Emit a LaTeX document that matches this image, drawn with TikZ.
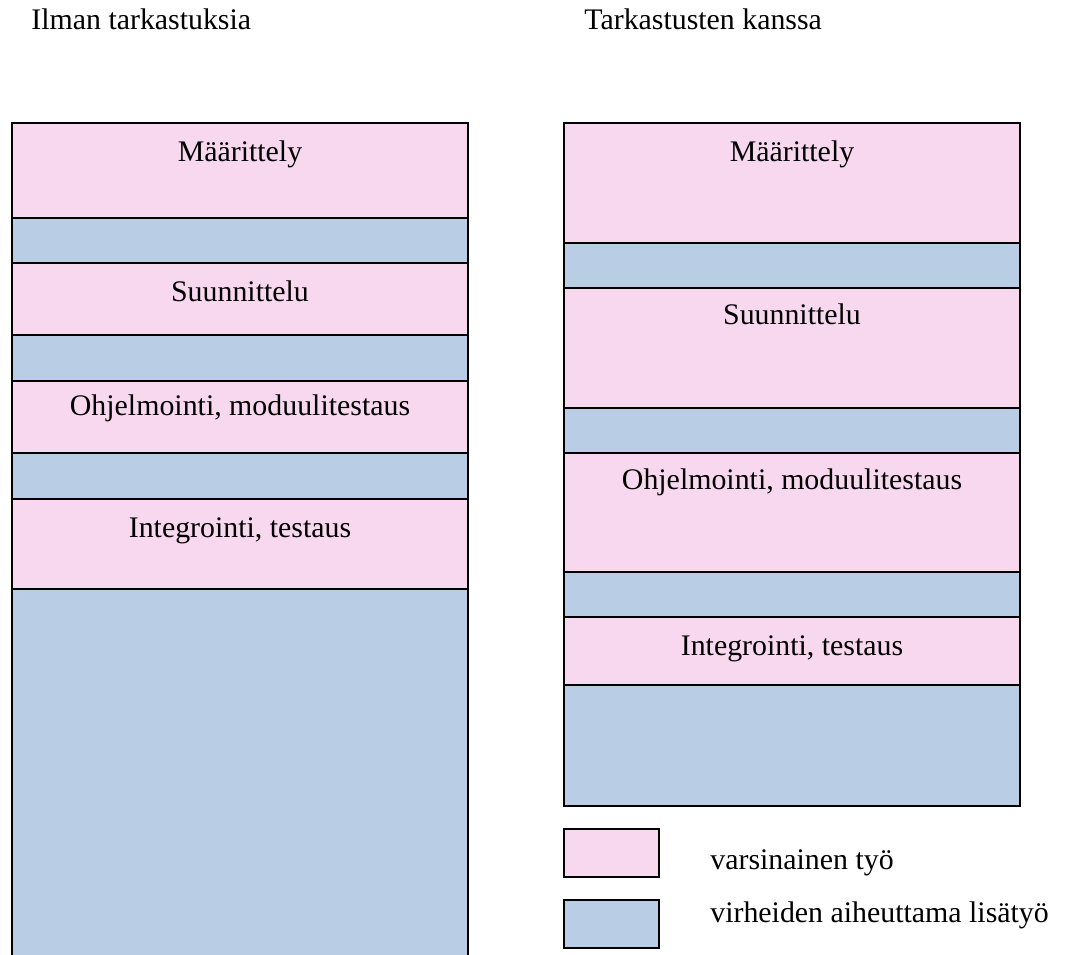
\documentclass[tikz,border=0pt]{standalone}
\usepackage{fontspec}
\setmainfont{Liberation Serif}
\usetikzlibrary{positioning}
\definecolor{tyopink}{RGB}{248,216,239}
\definecolor{virheblue}{RGB}{185,205,228}

\begin{document}
\begin{tikzpicture}[x=0.02cm,y=-0.02cm,font=\fontsize{17}{20}\selectfont]
	\tikzstyle{tyo}=[fill=tyopink,draw=black,line width=0.8pt]
	\tikzstyle{virhe}=[fill=virheblue,draw=black,line width=0.8pt]
	\tikzstyle{reuna}=[draw=black,line width=1.3pt]
	\tikzstyle{vaihe}=[anchor=base,inner sep=0pt]
	\tikzstyle{otsikko}=[anchor=base west,inner sep=0pt]

	\useasboundingbox (0,0) rectangle (1074,955);
	\clip (0,0) rectangle (1074,955);

	\node[otsikko] (ilman) at (31,30) {Ilman tarkastuksia};
	\node[otsikko] (kanssa) at (584,30) {Tarkastusten kanssa};

	% ilman tarkastuksia
	\draw[tyo]   (12,123) rectangle (468,218);
	\draw[virhe] (12,218) rectangle (468,263);
	\draw[tyo]   (12,263) rectangle (468,335);
	\draw[virhe] (12,335) rectangle (468,381);
	\draw[tyo]   (12,381) rectangle (468,453);
	\draw[virhe] (12,453) rectangle (468,499);
	\draw[tyo]   (12,499) rectangle (468,589);
	\draw[virhe] (12,589) rectangle (468,970);
	\draw[reuna] (12,970) -- (12,123) -- (468,123) -- (468,970);

	\node[vaihe] (vmaar)  at (240,162) {Määrittely};
	\node[vaihe] (vsuun)  at (240,302) {Suunnittelu};
	\node[vaihe] (vohj)   at (240,416) {Ohjelmointi, moduulitestaus};
	\node[vaihe] (vint)   at (240,537) {Integrointi, testaus};

	% tarkastusten kanssa
	\draw[tyo]   (564,123) rectangle (1020,243);
	\draw[virhe] (564,243) rectangle (1020,288);
	\draw[tyo]   (564,288) rectangle (1020,408);
	\draw[virhe] (564,408) rectangle (1020,453);
	\draw[tyo]   (564,453) rectangle (1020,572);
	\draw[virhe] (564,572) rectangle (1020,617);
	\draw[tyo]   (564,617) rectangle (1020,685);
	\draw[virhe] (564,685) rectangle (1020,806);
	\draw[reuna] (564,123) rectangle (1020,806);

	\node[vaihe] (tmaar)  at (792,162) {Määrittely};
	\node[vaihe] (tsuun)  at (792,325) {Suunnittelu};
	\node[vaihe] (tohj)   at (792,490) {Ohjelmointi, moduulitestaus};
	\node[vaihe] (tint)   at (792,655) {Integrointi, testaus};

	% selite
	\draw[tyo,line width=1pt]   (564,829) rectangle (659,877);
	\draw[virhe,line width=1pt] (564,900) rectangle (659,948);
	\node[otsikko] (lgtyo)   at (710,869) {varsinainen työ};
	\node[otsikko] (lgvirhe) at (710,922) {virheiden aiheuttama lisätyö};
\end{tikzpicture}
\end{document}
